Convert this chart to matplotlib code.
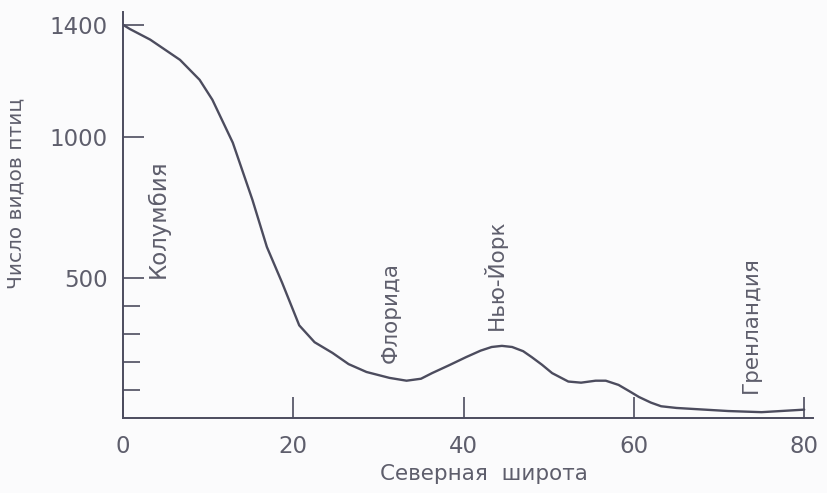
import matplotlib.pyplot as plt

plt.rcParams['font.family'] = ['DejaVu Sans']

# latitude (deg N) vs number of bird species
latitude = [0, 0.8, 3.2, 6.7, 9.0, 10.5, 12.9, 15.2, 16.9, 18.7, 20.7, 22.5, 24.6,
            26.5, 28.6, 31.3, 33.3, 35.0, 36.3, 38.3, 40.3, 42.0, 43.3, 44.5, 45.7,
            47.0, 48.0, 49.2, 50.4, 52.3, 53.8, 55.5, 56.7, 58.2, 59.5, 60.6, 62.0,
            63.2, 65.0, 67.2, 71.1, 75.0, 78.9, 80.0]
species = [1400, 1385, 1347, 1275, 1204, 1133, 980, 777, 609, 481, 330, 270, 232,
           192, 164, 143, 133, 140, 160, 188, 217, 240, 253, 257, 253,
           238, 217, 190, 160, 130, 126, 133, 133, 118, 95, 75, 55,
           42, 36, 32, 25, 21, 28, 30]

places = ['Колумбия', 'Флорида', 'Нью-Йорк', 'Гренландия']
place_x = [4.1, 31.5, 43.7, 73.7]
place_y = [499, 196, 313, 89]

ink = '#4c4c5e'
text_col = '#5e5e6c'

fig = plt.figure(figsize=(8.27, 4.93), dpi=100)
fig.patch.set_facecolor('#fbfbfc')
ax = fig.add_axes([0.1487, 0.152, 0.834, 0.824])
ax.set_facecolor('#fbfbfc')

ax.plot(latitude, species, color=ink, linewidth=1.7, solid_capstyle='round')

for name, x, y in zip(places, place_x, place_y):
    fs = 16.5 if name == 'Колумбия' else 15.5
    ax.text(x, y, name, rotation=90, ha='center', va='bottom',
            fontsize=fs, color=text_col)

ax.set_xlim(0, 81)
ax.set_ylim(0, 1446)
ax.set_xticks([0, 20, 40, 60, 80])
ax.set_yticks([500, 1000, 1400])
ax.set_yticks([100, 200, 300, 400], minor=True)
ax.tick_params(axis='both', which='major', direction='in', length=15, width=1.2,
               color=ink, labelcolor=text_col, labelsize=16.5)
ax.tick_params(axis='x', which='major', pad=12)
ax.tick_params(axis='y', which='major', pad=11)
ax.tick_params(axis='y', which='minor', direction='in', length=12, width=1.2, color=ink)

for side in ['top', 'right']:
    ax.spines[side].set_visible(False)
for side in ['left', 'bottom']:
    ax.spines[side].set_color(ink)
    ax.spines[side].set_linewidth(1.4)

ax.set_xlabel('Северная  широта', fontsize=15.5, color=text_col)
ax.set_ylabel('Число видов птиц', fontsize=14.5, color=text_col)
ax.xaxis.set_label_coords(0.523, -0.113)
ax.yaxis.set_label_coords(-0.141, 0.552)

fig.savefig('out.png', dpi=100, facecolor=fig.get_facecolor())
